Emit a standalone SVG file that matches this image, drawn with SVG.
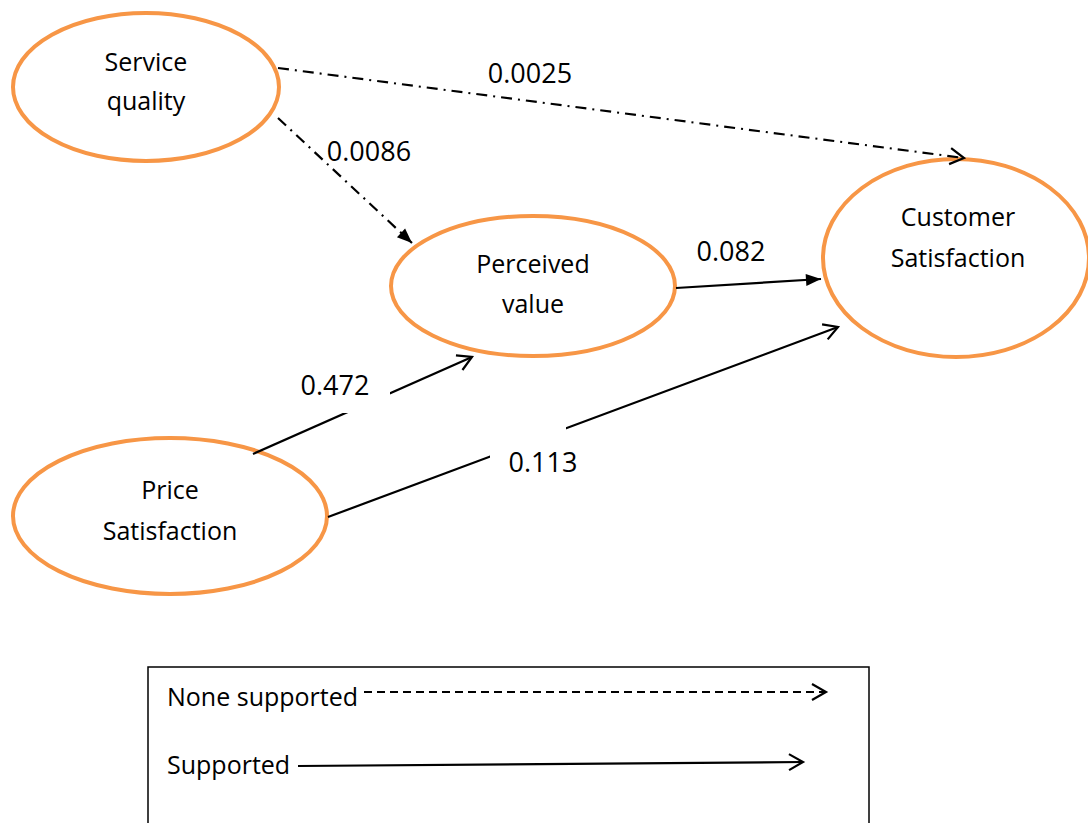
<svg xmlns="http://www.w3.org/2000/svg" width="1088" height="823" viewBox="0 0 1088 823">
<style>
.node{fill:none;stroke:#F79646;stroke-width:4}
.lbl{font-family:"Open Sans","Liberation Sans",sans-serif;font-size:25px;fill:#000;text-anchor:middle}
.num{font-family:"Open Sans","Liberation Sans",sans-serif;font-size:27px;fill:#000;text-anchor:middle}
.leg{font-family:"Open Sans","Liberation Sans",sans-serif;font-size:25px;fill:#000}
.c{fill:none;stroke:#000;stroke-width:2.2}
.dd{stroke-dasharray:11 6 2 6}
.ds{stroke-dasharray:8 5}
</style>
<defs>
<marker id="open" viewBox="-16 -10 20 20" refX="0" refY="0" markerWidth="20" markerHeight="20" markerUnits="userSpaceOnUse" orient="auto">
<path d="M-14,-8 L0,0 L-14,8" fill="none" stroke="#000" stroke-width="2.2"/>
</marker>
<marker id="fill" viewBox="-16 -10 20 20" refX="0" refY="0" markerWidth="20" markerHeight="20" markerUnits="userSpaceOnUse" orient="auto">
<path d="M-15,-6 L0,0 L-15,6 Z" fill="#000"/>
</marker>
</defs>
<rect width="1088" height="823" fill="#fff"/>
<g id="n-service">
<ellipse class="node" cx="146" cy="87" rx="133" ry="74"/>
<text class="lbl" x="146" y="71">Service</text>
<text class="lbl" x="146" y="110">quality</text>
</g>
<g id="n-perceived">
<ellipse class="node" cx="533" cy="286" rx="142" ry="70"/>
<text class="lbl" x="533" y="273">Perceived</text>
<text class="lbl" x="533" y="313">value</text>
</g>
<g id="n-customer">
<ellipse class="node" cx="956" cy="258" rx="133" ry="99"/>
<text class="lbl" x="958" y="226">Customer</text>
<text class="lbl" x="958" y="267">Satisfaction</text>
</g>
<g id="n-price">
<ellipse class="node" cx="170" cy="516" rx="157" ry="78"/>
<text class="lbl" x="170" y="499">Price</text>
<text class="lbl" x="170" y="540">Satisfaction</text>
</g>
<g id="connectors">
<path class="c dd" d="M278,68 L964,158" marker-end="url(#open)"/>
<path class="c dd" d="M278,118 L412,243" marker-end="url(#fill)"/>
<path class="c" d="M676,288 L821,279" marker-end="url(#fill)"/>
<path class="c" d="M253,454 L472,357" marker-end="url(#open)"/>
<path class="c" d="M328,517 L838,327" marker-end="url(#open)"/>
</g>
<g id="labels">
<text class="num" x="530" y="83">0.0025</text>
<text class="num" x="369" y="161">0.0086</text>
<text class="num" x="731" y="261">0.082</text>
<rect x="290" y="365" width="100" height="48" fill="#fff"/>
<text class="num" x="335" y="395">0.472</text>
<rect x="490" y="424" width="76" height="60" fill="#fff"/>
<text class="num" x="543" y="472">0.113</text>
</g>
<g id="legend">
<rect x="148" y="667" width="721" height="170" fill="none" stroke="#000" stroke-width="1.5"/>
<text class="leg" x="167" y="706">None supported</text>
<path class="c ds" d="M364,692 L826,692" marker-end="url(#open)"/>
<text class="leg" x="167" y="774">Supported</text>
<path class="c" d="M298,766 L803,762" marker-end="url(#open)"/>
</g>
</svg>
